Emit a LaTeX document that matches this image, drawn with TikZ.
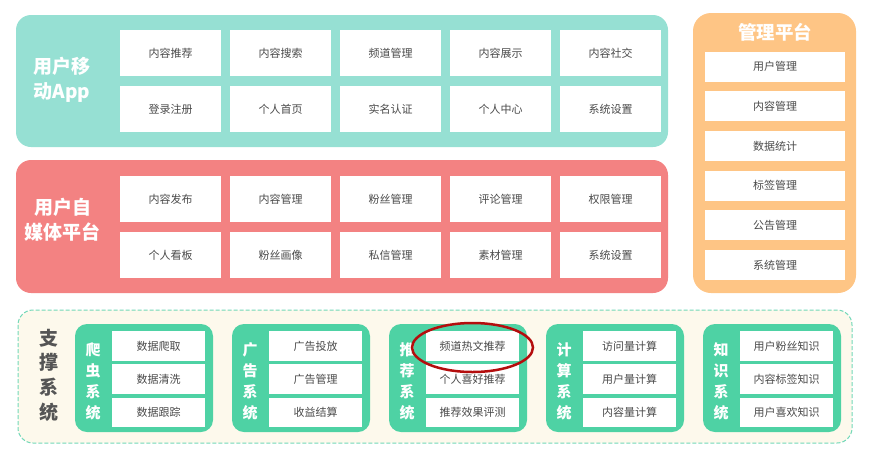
\documentclass[tikz,border=0pt]{standalone}
\usepackage{fontspec}
\setmainfont{Noto Sans CJK SC}
\usetikzlibrary{positioning,shapes.geometric}

\definecolor{appteal}{HTML}{96E0D3}
\definecolor{mediared}{HTML}{F38282}
\definecolor{adminorange}{HTML}{FEC585}
\definecolor{supgreen}{HTML}{4ED2A4}
\definecolor{supcream}{HTML}{FDF9EC}
\definecolor{supdash}{HTML}{72D8B8}
\definecolor{celltext}{HTML}{4A4A4A}
\definecolor{titlegray}{HTML}{555555}
\definecolor{markred}{HTML}{B40D0D}

\tikzset{
  panel/.style={rounded corners=15pt, draw=none, inner sep=0pt},
  cell/.style={fill=white, draw=none, inner sep=0pt, text=celltext,
    font=\fontsize{11}{13}\selectfont},
  appcell/.style={cell, minimum width=101pt, minimum height=45.5pt},
  admincell/.style={cell, minimum width=140pt, minimum height=30pt},
  supcell/.style={cell, minimum width=93pt, minimum height=29.5pt},
  paneltitle/.style={text=white, align=center,
    font=\bfseries\fontsize{19}{25}\selectfont},
  subtitle/.style={text=white, align=center,
    font=\bfseries\fontsize{15}{21}\selectfont},
}

\begin{document}
\begin{tikzpicture}[x=1pt, y=-1pt]
\useasboundingbox (0,0) rectangle (884,456);

% user mobile app
\fill[panel, fill=appteal] (16,15) rectangle (668,147);
\node[paneltitle] (apptitle) at (62,79.5) {用户移\\动App};
\foreach \t [count=\i] in {内容推荐,内容搜索,频道管理,内容展示,内容社交}
  \node[appcell] (appa\i) at ({60.5+\i*110},53) {\t};
\foreach \t [count=\i] in {登录注册,个人首页,实名认证,个人中心,系统设置}
  \node[appcell, below=10pt of appa\i] (appb\i) {\t};

% self media platform
\fill[panel, fill=mediared] (16,160) rectangle (668,293);
\node[paneltitle] (mediatitle) at (62.5,220) {用户自\\媒体平台};
\foreach \t [count=\i] in {内容发布,内容管理,粉丝管理,评论管理,权限管理}
  \node[appcell] (mediaa\i) at ({60.5+\i*110},199) {\t};
\foreach \t [count=\i] in {个人看板,粉丝画像,私信管理,素材管理,系统设置}
  \node[appcell, below=10pt of mediaa\i] (mediab\i) {\t};

% admin platform
\fill[panel, rounded corners=18pt, fill=adminorange] (693,13) rectangle (856,293);
\node[paneltitle, font=\bfseries\fontsize{18.5}{22}\selectfont] (admintitle) at (775,32) {管理平台};
\node[admincell] (admin1) at (775,66.5) {用户管理};
\foreach \t [count=\i from 2] in {内容管理,数据统计,标签管理,公告管理,系统管理}
{
  \pgfmathtruncatemacro\prev{\i-1}
  \node[admincell, below=9.3pt of admin\prev] (admin\i) {\t};
}

% support systems
\draw[rounded corners=15pt, fill=supcream, draw=supdash, line width=1pt,
  dash pattern=on 4pt off 2pt] (18,310) rectangle (852,443);
\node[text=titlegray, align=center, font=\bfseries\fontsize{19}{24.7}\selectfont]
  (suptitle) at (49,375) {支\\撑\\系\\统};

\foreach \n/\l/\a/\b/\c [count=\k] in {
  crawl/爬\\虫\\系\\统/数据爬取/数据清洗/数据跟踪,
  ad/广\\告\\系\\统/广告投放/广告管理/收益结算,
  rec/推\\荐\\系\\统/频道热文推荐/个人喜好推荐/推荐效果评测,
  calc/计\\算\\系\\统/访问量计算/用户量计算/内容量计算,
  know/知\\识\\系\\统/用户粉丝知识/内容标签知识/用户喜欢知识}
{
  \fill[panel, rounded corners=12pt, fill=supgreen]
    ({75+(\k-1)*157},324) rectangle ({213+(\k-1)*157},432);
  \node[subtitle] (\n title) at ({93+(\k-1)*157},381.5) {\l};
  \node[supcell] (\n1) at ({158.5+(\k-1)*157},346) {\a};
  \node[supcell, below=3.3pt of \n1] (\n2) {\b};
  \node[supcell, below=3.3pt of \n2] (\n3) {\c};
}

% highlight
\node[ellipse, draw=markred, line width=2.5pt, minimum width=121pt,
  minimum height=49pt] (mark) at ([yshift=-1.5pt]rec1.center) {};
\end{tikzpicture}
\end{document}
